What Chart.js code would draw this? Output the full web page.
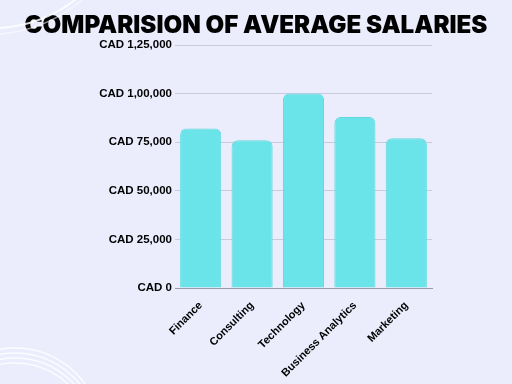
<!DOCTYPE html>
<html>
<head>
<meta charset="utf-8">
<script src="https://cdn.jsdelivr.net/npm/chart.js@4"></script>
<style>
  html, body { margin: 0; padding: 0; background: #ebedfd; }
  #wrap { position: relative; width: 512px; height: 384px; }
  #salaryChart { position: absolute; left: 0; top: 0; }
  #title {
    position: absolute; left: 0; top: 9px; width: 512px;
    text-align: center; margin: 0;
    font-family: "Inter", "Liberation Sans", sans-serif; font-weight: 900;
    font-size: 27px; line-height: 32px; color: #000; letter-spacing: 0;
  }
</style>
</head>
<body>
<div id="wrap">
  <canvas id="salaryChart" width="512" height="384"></canvas>
  <h1 id="title">COMPARISION OF AVERAGE SALARIES</h1>
</div>
<script>
const fields = ["Finance", "Consulting", "Technology", "Business Analytics", "Marketing"];
const salaries = [82000, 76000, 100000, 88000, 77000]; // CAD
const tickValues = [0, 25000, 50000, 75000, 100000, 125000];
const tickLabels = ["CAD 0", "CAD 25,000", "CAD 50,000", "CAD 75,000", "CAD 1,00,000", "CAD 1,25,000"];

// fit the title to the width it has in the picture
const titleEl = document.getElementById("title");
const mctx = document.createElement("canvas").getContext("2d");
mctx.font = '900 27px "Inter"';
const w = mctx.measureText(titleEl.textContent).width;
titleEl.style.fontSize = (27 * 463 / w).toFixed(2) + "px";

// white swooshes in the bottom corner
const swooshes = {
    id: "swooshes",
    beforeDraw(chart) {
        const ctx = chart.ctx;
        ctx.save();
        ctx.fillStyle = "#ebedfd";
        ctx.fillRect(0, 0, chart.width, chart.height);
        ctx.strokeStyle = "rgba(255,255,255,0.8)";
        ctx.lineWidth = 1.5;
        for (let i = 0; i < 4; i++) {
            ctx.beginPath();
            ctx.arc(15, 434 + i * 2, 86 - i * 3, Math.PI, Math.PI * 1.9);
            ctx.stroke();
        }
        ctx.restore();
    }
};

new Chart("salaryChart", {
    type: "bar",
    data: {
        labels: fields,
        datasets: [{
            data: salaries,
            backgroundColor: "#6ae4e8",
            borderColor: "#5fd8de",
            borderWidth: 1,
            borderSkipped: "bottom",
            borderRadius: { topLeft: 6, topRight: 6 },
            categoryPercentage: 1.0,
            barPercentage: 0.8
        }]
    },
    options: {
        responsive: false,
        animation: false,
        layout: { padding: { left: 0, right: 80, top: 45, bottom: 0 } },
        plugins: {
            legend: { display: false },
            tooltip: { enabled: false }
        },
        scales: {
            y: {
                min: 0,
                max: 125000,
                afterBuildTicks(scale) {
                    scale.ticks = tickValues.map(v => ({ value: v }));
                },
                afterFit(scale) { scale.width = 175; },
                ticks: {
                    color: "#000",
                    padding: 3,
                    font: { family: "Liberation Sans", size: 11.5, weight: "bold" },
                    callback: (v) => tickLabels[tickValues.indexOf(v)]
                },
                grid: { color: "#c9cadb", drawTicks: false },
                border: { display: false }
            },
            x: {
                afterFit(scale) { scale.height = 96; },
                ticks: {
                    color: "#000",
                    maxRotation: 45,
                    minRotation: 45,
                    font: { family: "Liberation Sans", size: 11, weight: "bold" }
                },
                grid: { display: false },
                border: { display: true, color: "#9a9aa8", width: 1 }
            }
        }
    },
    plugins: [swooshes]
});
</script>
<svg width="512" height="384" style="position:absolute;left:0;top:0;pointer-events:none">
  <path d="M 0 28 A 139 139 0 0 0 75 0" fill="none" stroke="rgba(255,255,255,0.85)" stroke-width="2"/>
  <path d="M 0 34 A 145 145 0 0 0 82 0" fill="none" stroke="rgba(255,255,255,0.55)" stroke-width="1.5"/>
</svg>
</body>
</html>
